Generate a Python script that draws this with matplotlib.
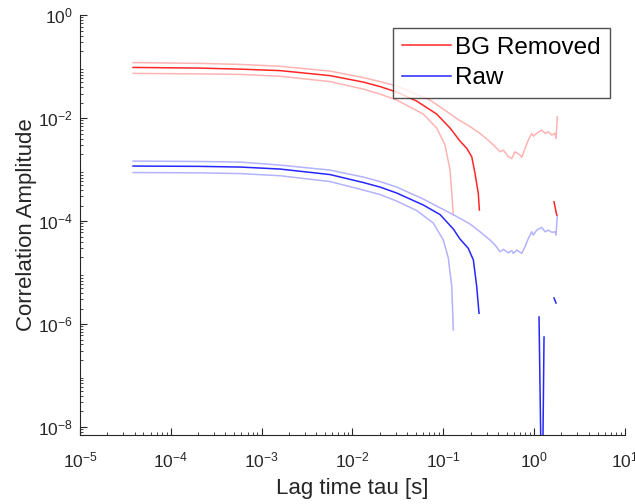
import numpy as np
import matplotlib
matplotlib.use("Agg")
import matplotlib.pyplot as plt

plt.rcParams['font.family'] = ['Liberation Sans', 'DejaVu Sans']
plt.rcParams['mathtext.default'] = 'regular'

nan = np.nan

# values, as log10(lag time) and log10(amplitude)

# BG removed: mean (gaps where the value went negative), upper and lower bounds
lt_red = [-4.416, -3.678, -3.238, -2.797, -2.247, -1.880, -1.696, -1.512, -1.292, -1.072,
          -0.925, -0.815, -0.741, -0.686, -0.650, -0.614, -0.602, nan, 0.220, 0.250]
lg_red = [-1.016, -1.029, -1.049, -1.078, -1.175, -1.301, -1.388, -1.495, -1.670, -1.922,
          -2.194, -2.447, -2.588, -2.751, -3.074, -3.462, -3.786, nan, -3.625, -3.883]

lt_red_hi = [-4.416, -3.678, -3.238, -2.797, -2.247, -1.880, -1.696, -1.512, -1.145, -0.999,
             -0.851, -0.705, -0.595, -0.485, -0.429, -0.374, -0.338, -0.283, -0.245, -0.209,
             -0.154, -0.135, -0.099, -0.063, -0.025, -0.008, 0.030, 0.085, 0.121, 0.158,
             0.195, 0.231, 0.242, 0.257]
lg_red_hi = [-0.922, -0.938, -0.957, -0.994, -1.087, -1.214, -1.291, -1.379, -1.650, -1.825,
             -2.010, -2.165, -2.297, -2.460, -2.557, -2.654, -2.621, -2.751, -2.783, -2.654,
             -2.718, -2.763, -2.588, -2.427, -2.297, -2.350, -2.297, -2.233, -2.297, -2.266,
             -2.330, -2.297, -2.394, -1.975]

lt_red_lo = [-4.416, -3.678, -3.238, -2.797, -2.247, -1.880, -1.696, -1.512, -1.219, -1.072,
             -0.980, -0.925, -0.906, -0.889]
lg_red_lo = [-1.132, -1.142, -1.151, -1.188, -1.291, -1.437, -1.534, -1.650, -1.922, -2.194,
             -2.524, -3.010, -3.462, -3.883]

# Raw: mean (gaps where the value went negative), upper and lower bounds
lt_blue = [-4.416, -3.678, -3.238, -2.797, -2.247, -1.880, -1.696, -1.512, -1.219, -1.035,
           -0.889, -0.815, -0.724, -0.668, -0.631, -0.606, nan, 0.055, 0.088, 0.110, nan,
           0.220, 0.242]
lg_blue = [-2.932, -2.938, -2.951, -2.990, -3.097, -3.252, -3.340, -3.456, -3.689, -3.874,
           -4.155, -4.350, -4.530, -4.757, -5.276, -5.792, nan, -5.864, -10.0, -6.252, nan,
           -5.495, -5.592]

lt_blue_hi = [-4.416, -3.678, -3.238, -2.797, -2.247, -1.880, -1.696, -1.512, -1.219, -0.999,
              -0.851, -0.705, -0.595, -0.485, -0.429, -0.374, -0.338, -0.283, -0.245, -0.228,
              -0.190, -0.135, -0.099, -0.063, -0.025, -0.008, 0.030, 0.085, 0.121, 0.158,
              0.195, 0.231, 0.242, 0.257]
lg_blue_hi = [-2.835, -2.843, -2.854, -2.913, -3.010, -3.146, -3.233, -3.340, -3.573, -3.777,
              -3.913, -4.058, -4.208, -4.369, -4.466, -4.596, -4.550, -4.616, -4.577, -4.627,
              -4.563, -4.627, -4.499, -4.336, -4.208, -4.272, -4.175, -4.122, -4.208, -4.175,
              -4.219, -4.208, -4.272, -3.883]

lt_blue_lo = [-4.416, -3.678, -3.238, -2.797, -2.247, -1.880, -1.696, -1.512, -1.292, -1.109,
              -0.999, -0.944, -0.906, -0.889]
lg_blue_lo = [-3.058, -3.064, -3.078, -3.120, -3.233, -3.398, -3.485, -3.612, -3.796, -4.039,
              -4.369, -4.718, -5.276, -6.117]


def pw(a):
    return 10.0 ** np.asarray(a, dtype=float)


light_red = (1.0, 0.7, 0.7)
light_blue = (0.7, 0.7, 1.0)

fig = plt.figure(figsize=(6.35, 5.04), dpi=100)
ax = fig.add_axes([0.126, 0.137, 0.858, 0.833])

ax.plot(pw(lt_red_hi), pw(lg_red_hi), color=light_red, lw=1.1)
ax.plot(pw(lt_red_lo), pw(lg_red_lo), color=light_red, lw=1.1)
ax.plot(pw(lt_blue_hi), pw(lg_blue_hi), color=light_blue, lw=1.1)
ax.plot(pw(lt_blue_lo), pw(lg_blue_lo), color=light_blue, lw=1.1)
ax.plot(pw(lt_red), pw(lg_red), color=(1.0, 0.15, 0.15), lw=1.1, label='BG Removed')
ax.plot(pw(lt_blue), pw(lg_blue), color=(0.15, 0.15, 1.0), lw=1.1, label='Raw')

ax.set_xscale('log')
ax.set_yscale('log')
ax.set_xlim(1e-5, 10)
ax.set_ylim(10 ** -8.155, 1)
ax.set_xticks([1e-5, 1e-4, 1e-3, 1e-2, 1e-1, 1e0, 1e1])
ax.set_yticks([1e-8, 1e-6, 1e-4, 1e-2, 1e0])

ax.spines['top'].set_visible(False)
ax.spines['right'].set_visible(False)
ax.spines['left'].set_color('#262626')
ax.spines['bottom'].set_color('#262626')
ax.tick_params(which='both', direction='in', colors='#262626', labelsize=12.5)
ax.tick_params(which='major', length=5)
ax.tick_params(which='minor', length=2.5)
ax.tick_params(axis='x', pad=11)
ax.tick_params(axis='y', pad=5)

ax.set_xlabel('Lag time tau [s]', fontsize=16, color='#262626', labelpad=6)
ax.set_ylabel('Correlation Amplitude', fontsize=16, color='#262626', labelpad=1)

leg = ax.legend(loc='upper right', bbox_to_anchor=(0.972, 0.969), fontsize=17.5,
                frameon=True, fancybox=False, edgecolor='#262626', handlelength=2.0,
                borderpad=0.35, labelspacing=0.35, handletextpad=0.2, borderaxespad=0)
leg.get_frame().set_linewidth(1.0)

fig.savefig('out.png', dpi=100)
